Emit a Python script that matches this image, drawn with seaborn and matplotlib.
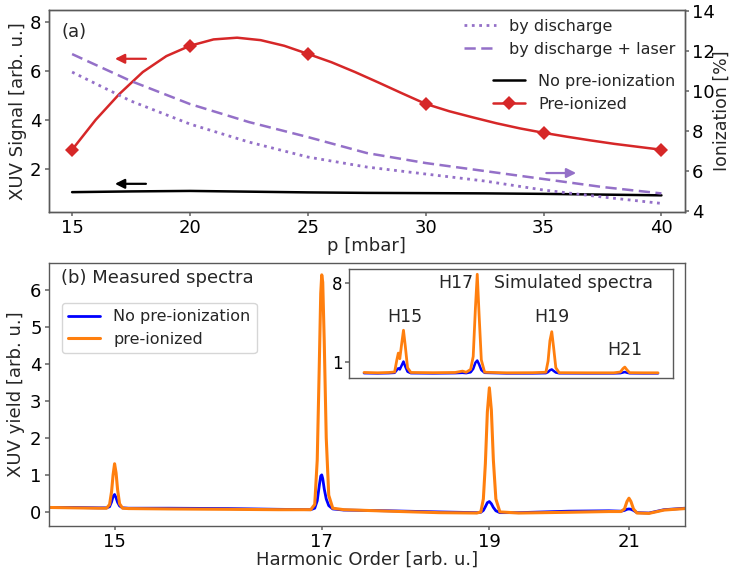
import matplotlib
matplotlib.use("Agg")
import matplotlib.pyplot as plt
import seaborn as sns

# ---- (a) XUV signal and ionization vs. pressure ----
p_fine = list(range(15, 41))
sig_preionized = [2.78, 4.0, 5.05, 5.95, 6.6, 7.02, 7.28, 7.35, 7.25, 7.02, 6.69,
                  6.35, 5.95, 5.52, 5.08, 4.65, 4.35, 4.1, 3.86, 3.65, 3.47,
                  3.31, 3.16, 3.02, 2.9, 2.78]
p_coarse = [15, 17.5, 20, 22.5, 25, 27.5, 30, 32.5, 35, 37.5, 40]
sig_no_preion = [1.05, 1.08, 1.10, 1.07, 1.04, 1.02, 1.01, 1.0, 0.98, 0.95, 0.92]
ion_discharge = [10.95, 9.5, 8.35, 7.45, 6.7, 6.2, 5.85, 5.5, 5.05, 4.7, 4.38]
ion_discharge_laser = [11.85, 10.5, 9.35, 8.45, 7.7, 6.9, 6.4, 6.0, 5.6, 5.2, 4.88]

# ---- (b) measured spectra, detector position (px) ----
det_x = [0, 25, 50, 58, 61, 63, 64.5, 66, 67.5, 69,
         71, 74, 80, 120, 180, 230, 262, 266, 268.5, 270.5,
         272, 273, 274, 275.5, 277.5, 280, 284, 295, 340, 390,
         428, 432, 434.5, 436.5, 438.5, 440.5, 442.5, 444.5, 447, 451,
         470, 520, 560, 572, 575.5, 578, 580, 582, 584.5, 588,
         600, 615, 636]
meas_preion = [0.12, 0.11, 0.10, 0.10, 0.2, 0.55, 1.0, 1.30, 1.05, 0.6,
               0.22, 0.1, 0.09, 0.08, 0.07, 0.06, 0.06, 0.2, 1.4, 3.9,
               5.9, 6.4, 6.2, 4.6, 2.0, 0.45, 0.1, 0.06, 0.02, -0.02,
               -0.03, 0.0, 0.35, 1.3, 2.7, 3.35, 2.75, 1.4, 0.35, 0.0,
               -0.03, -0.01, 0.01, 0.01, 0.08, 0.28, 0.37, 0.28, 0.08, -0.03,
               -0.04, 0.05, 0.09]
meas_no_preion = [0.12, 0.12, 0.11, 0.11, 0.14, 0.27, 0.42, 0.47, 0.38, 0.26,
                  0.16, 0.11, 0.1, 0.1, 0.09, 0.07, 0.06, 0.1, 0.3, 0.7,
                  0.97, 1.0, 0.9, 0.62, 0.35, 0.17, 0.08, 0.05, 0.03, 0.0,
                  -0.02, -0.01, 0.04, 0.14, 0.25, 0.28, 0.22, 0.12, 0.03, -0.02,
                  -0.02, 0.02, 0.03, 0.02, 0.04, 0.07, 0.08, 0.07, 0.04, -0.02,
                  -0.03, 0.06, 0.1]
harm_tick_pos = [66, 273, 440.5, 580]
harm_tick_labels = ["15", "17", "19", "21"]

# ---- inset: simulated spectra vs harmonic order ----
sim_order = [13.93, 14.3, 14.6, 14.76, 14.82, 14.86, 14.9, 14.95, 15.0, 15.05,
             15.11, 15.2, 15.8, 16.4, 16.6, 16.7, 16.82, 16.89, 16.95, 17.0,
             17.05, 17.11, 17.2, 17.8, 18.5, 18.86, 18.92, 18.97, 19.02, 19.07,
             19.13, 19.22, 20.0, 20.7, 20.88, 20.95, 21.0, 21.06, 21.13, 21.5, 21.9]
sim_preion = [0.08, 0.05, 0.08, 0.12, 1.2, 1.8, 1.3, 2.6, 3.83, 2.4,
              0.5, 0.08, 0.06, 0.08, 0.2, 0.1, 0.35, 1.5, 5.8, 8.8,
              5.2, 1.2, 0.1, 0.05, 0.06, 0.1, 1.1, 2.9, 3.7, 2.3,
              0.5, 0.06, 0.05, 0.05, 0.12, 0.42, 0.56, 0.3, 0.06, 0.05, 0.05]
sim_no_preion = [0.02, 0.0, 0.02, 0.05, 0.3, 0.45, 0.35, 0.7, 1.05, 0.6,
                 0.15, 0.02, 0.0, 0.02, 0.05, 0.02, 0.1, 0.4, 0.95, 1.14,
                 0.8, 0.3, 0.05, 0.0, 0.0, 0.02, 0.12, 0.28, 0.35, 0.22,
                 0.08, 0.01, 0.0, 0.0, 0.02, 0.08, 0.12, 0.06, 0.01, 0.0, 0.0]
sim_labels = [("H15", 15.03, 5.04), ("H17", 16.42, 8.06), ("H19", 19.02, 5.04), ("H21", 21.0, 2.07)]

RED, PURPLE, BLUE, ORANGE = "#d62728", "#9470c8", "#0000ff", "#ff7f0e"

sns.set_theme(style="ticks", rc={"axes.edgecolor": "0.35", "axes.linewidth": 1.0,
                                 "xtick.color": "0.45", "ytick.color": "0.45",
                                 "xtick.labelcolor": "black", "ytick.labelcolor": "black",
                                 "xtick.major.size": 3, "ytick.major.size": 3,
                                 "xtick.major.pad": 2, "ytick.major.pad": 2})
plt.rcParams["font.family"] = ["DejaVu Sans"]
FS_TICK, FS_LAB, FS_LEG = 13, 13, 11.5

fig = plt.figure(figsize=(7.32, 5.69), dpi=100)

# ===== panel (a) =====
ax = fig.add_axes([0.0663, 0.6274, 0.8695, 0.3559])
ax2 = ax.twinx()
sns.lineplot(x=p_coarse, y=sig_no_preion, ax=ax, color="black", lw=1.8, label="No pre-ionization")
sns.lineplot(x=p_fine, y=sig_preionized, ax=ax, color=RED, lw=1.8, marker="D", markersize=7,
             markevery=5, markeredgewidth=0, label="Pre-ionized")
sns.lineplot(x=p_coarse, y=ion_discharge, ax=ax2, color=PURPLE, lw=2.0, linestyle=":", label="by discharge")
sns.lineplot(x=p_coarse, y=ion_discharge_laser, ax=ax2, color=PURPLE, lw=1.8, dashes=(4.5, 2.2),
             label="by discharge + laser")
ax.set_xlim(14.0, 41.0)
ax.set_ylim(0.24, 8.5)
ax.set_yticks([2, 4, 6, 8])
ax2.set_ylim(3.95, 14.08)
ax2.set_yticks([4, 6, 8, 10, 12, 14])
ax.set_xticks([15, 20, 25, 30, 35, 40])
ax.set_xlabel("p [mbar]", fontsize=FS_LAB, labelpad=0)
ax.set_ylabel("XUV Signal [arb. u.]", fontsize=FS_LAB, labelpad=2)
ax2.set_ylabel("Ionization [%]", fontsize=FS_LAB - 0.5, va="center")
ax2.yaxis.set_label_coords(1.058, 0.5)
for a in (ax, ax2):
    a.tick_params(labelsize=FS_TICK)
    for s in a.spines.values():
        s.set_visible(True)
ax.text(0.02, 0.89, "(a)", transform=ax.transAxes, fontsize=FS_LAB, va="center", ha="left")

ax.annotate("", xy=(16.7, 6.49), xytext=(18.25, 6.49),
            arrowprops=dict(arrowstyle="-|>", color=RED, lw=1.6, mutation_scale=14))
ax.annotate("", xy=(16.7, 1.39), xytext=(18.25, 1.39),
            arrowprops=dict(arrowstyle="-|>", color="black", lw=1.6, mutation_scale=14))
ax2.annotate("", xy=(36.5, 5.9), xytext=(35.0, 5.9),
             arrowprops=dict(arrowstyle="-|>", color=PURPLE, lw=1.6, mutation_scale=14))

h1, l1 = ax.get_legend_handles_labels()
h2, l2 = ax2.get_legend_handles_labels()
ax.get_legend().remove()
ax2.get_legend().remove()
leg_top = ax2.legend(h2, l2, loc="upper right", bbox_to_anchor=(0.995, 0.985), borderaxespad=0,
                     frameon=False, fontsize=FS_LEG, labelspacing=0.5)
leg_bot = ax.legend(h1, l1, loc="upper right", bbox_to_anchor=(0.995, 0.715), borderaxespad=0,
                    frameon=False, fontsize=FS_LEG, labelspacing=0.5)

# ===== panel (b) =====
bx = fig.add_axes([0.0663, 0.0756, 0.8695, 0.4622])
sns.lineplot(x=det_x, y=meas_no_preion, ax=bx, color=BLUE, lw=2.0, label="No pre-ionization")
sns.lineplot(x=det_x, y=meas_preion, ax=bx, color=ORANGE, lw=2.2, label="pre-ionized")
bx.set_xlim(0, 636)
bx.set_ylim(-0.38, 6.72)
bx.set_xticks(harm_tick_pos)
bx.set_xticklabels(harm_tick_labels)
bx.set_yticks([0, 1, 2, 3, 4, 5, 6])
bx.tick_params(labelsize=FS_TICK)
bx.set_xlabel("Harmonic Order [arb. u.]", fontsize=FS_LAB, labelpad=0)
bx.set_ylabel("XUV yield [arb. u.]", fontsize=FS_LAB, labelpad=4)
for s in bx.spines.values():
    s.set_visible(True)
bx.text(0.019, 0.943, "(b) Measured spectra", transform=bx.transAxes, fontsize=FS_LAB,
        va="center", ha="left")
bx.legend(loc="upper left", bbox_to_anchor=(0.021, 0.848), borderaxespad=0, frameon=True,
          fontsize=FS_LEG, labelspacing=0.45, edgecolor="0.8", fancybox=True)

# ===== inset =====
ins = fig.add_axes([0.4772, 0.3351, 0.4418, 0.1916])
sns.lineplot(x=sim_order, y=sim_no_preion, ax=ins, color=BLUE, lw=1.8, legend=False)
sns.lineplot(x=sim_order, y=sim_preion, ax=ins, color=ORANGE, lw=2.0, legend=False)
ins.set_xticks([])
ins.set_yticks([1, 8])
ins.tick_params(labelsize=FS_TICK - 1)
ins.set_xlabel("")
ins.set_ylabel("")
for s in ins.spines.values():
    s.set_visible(True)
for txt, xx, yy in sim_labels:
    ins.text(xx, yy, txt, fontsize=FS_LAB - 0.5, ha="center", va="center")
ins.text(17.46, 8.06, "Simulated spectra", fontsize=FS_LAB - 0.5, ha="left", va="center")

fig.savefig("out.png", dpi=100)
